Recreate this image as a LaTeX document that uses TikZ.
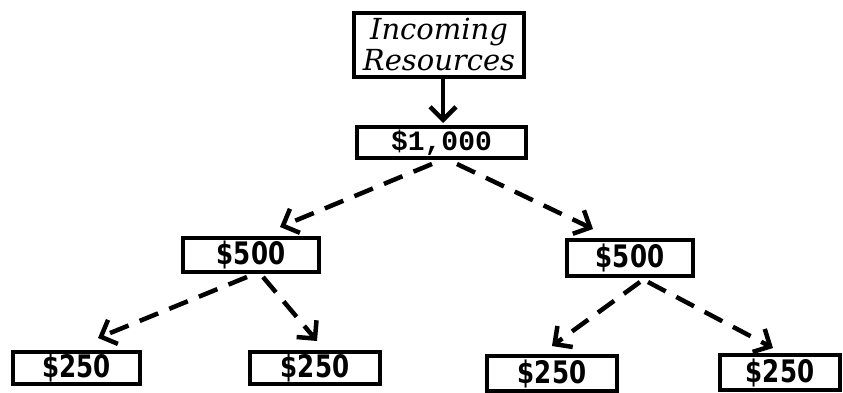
\documentclass[tikz,border=0pt]{standalone}
\usepackage{fontspec}
\newfontfamily\sansc[FakeStretch=0.88]{DejaVu Sans Condensed}
\newfontfamily\monof{Liberation Mono}
\newfontfamily\serifi{DejaVu Serif}
\usetikzlibrary{arrows.meta,calc}
\begin{document}
\begin{tikzpicture}[x=1pt,y=-1pt,
  box/.style={draw, line width=4pt, inner sep=0pt, align=center},
  flow/.style={line width=4.5pt, -{Straight Barb[length=13pt,width=26pt,line width=4.5pt]}},
  split/.style={flow, dash pattern=on 20pt off 12pt},
  money/.style={box, font=\sansc\bfseries\fontsize{31}{31}\selectfont}]
\fill[white] (0,0) rectangle (843,393);
\useasboundingbox (0,0) rectangle (843,393);
\node[box, minimum width=170pt, minimum height=64pt,
      font=\serifi\itshape\fontsize{29}{31}\selectfont] (inc) at (439,45) {Incoming\\Resources};
\node[box, minimum width=169pt, minimum height=31pt,
      font=\monof\bfseries\fontsize{28}{28}\selectfont] (k) at (441.5,142.5) {\$1,000};
\node[money, minimum width=136pt, minimum height=34pt] (l5) at (251,255) {\$500};
\node[money, minimum width=126pt, minimum height=36pt] (r5) at (630,258) {\$500};
\node[money, minimum width=127pt, minimum height=32pt] (b1) at (76.5,368) {\$250};
\node[money, minimum width=130pt, minimum height=32pt] (b2) at (315,368) {\$250};
\node[money, minimum width=130pt, minimum height=35pt] (b3) at (552,373.5) {\$250};
\node[money, minimum width=120pt, minimum height=35pt] (b4) at (780,372.5) {\$250};
\draw[flow] ($(inc.south)+(4,0)$) -- ($(k.north)+(1.5,-2)$);
\draw[split] ($(k.south)+(-9.5,4)$) -- ($(l5.north)+(29,-9)$);
\draw[split] ($(k.south)+(15.5,4)$) -- ($(r5.north)+(-37,-9)$);
\draw[split] ($(l5.south)+(-4,3)$) -- ($(b1.north)+(21.5,-12)$);
\draw[split] ($(l5.south)+(12,3)$) -- ($(b2.north)+(2,-9)$);
\draw[split] ($(r5.south)+(10,4)$) -- ($(b3.north)+(0,-8)$);
\draw[split] ($(r5.south)+(18,4)$) -- ($(b4.north)+(-7,-5)$);
\end{tikzpicture}
\end{document}
